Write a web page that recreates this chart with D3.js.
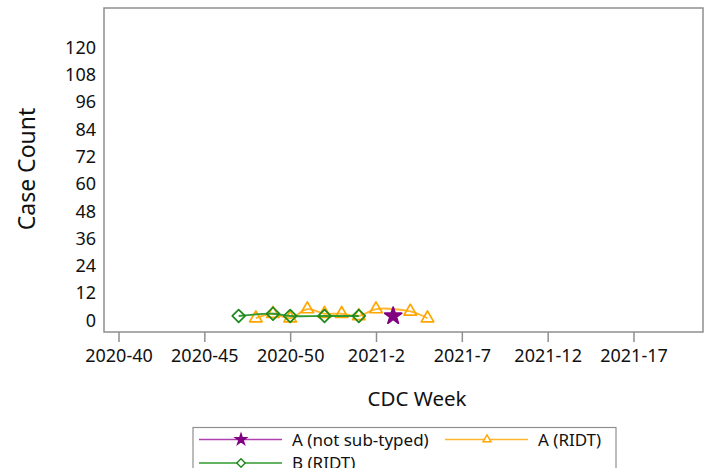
<!DOCTYPE html>
<html>
<head>
<meta charset="utf-8">
<script src="https://cdn.jsdelivr.net/npm/d3@7"></script>
<style>
  body { margin: 0; background: #fff; }
  svg { display: block; font-family: "Noto Sans", sans-serif; }
</style>
</head>
<body>
<svg id="chart" width="711" height="468"></svg>
<script>
// ticks
var xTickWeeks = ['2020-40','2020-45','2020-50','2021-2','2021-7','2021-12','2021-17'];
var yTicks = [0,12,24,36,48,60,72,84,96,108,120];

// series
var notSubWeeks = ['2021-3'];
var notSubCounts = [2];
var ridtAWeeks = ['2020-48','2020-49','2020-50','2020-51','2020-52','2020-53','2021-1','2021-2','2021-4','2021-5'];
var ridtACounts = [1,3,1,5,3,3,2,5,4,1];
var ridtBWeeks = ['2020-47','2020-49','2020-50','2020-52','2021-1'];
var ridtBCounts = [2,3,2,2,2];

// week label -> running index (2020 has 53 CDC weeks)
function weekIdx(w){
  var p = w.split('-');
  var yr = +p[0], wk = +p[1];
  return yr == 2020 ? wk - 40 : 13 + wk;
}

var svg = d3.select('#chart');
var plotL = 104, plotR = 703, plotT = 8, plotB = 332;

var x = d3.scaleLinear().domain([-0.845, 34.05]).range([plotL, plotR]);
var y = d3.scaleLinear().domain([-5.05, 137.4]).range([plotB, plotT]);

// frame
svg.append('rect')
  .attr('x', plotL).attr('y', plotT)
  .attr('width', plotR - plotL).attr('height', plotB - plotT)
  .style('fill', 'none')
  .style('stroke', '#8f8f8f')
  .style('stroke-width', 1.5);

// x axis
var xAxis = d3.axisBottom(x)
  .tickValues(xTickWeeks.map(weekIdx))
  .tickFormat(function(d, i){ return xTickWeeks[i]; })
  .tickSize(10)
  .tickSizeOuter(0);
var gx = svg.append('g').attr('transform', 'translate(0,' + plotB + ')').call(xAxis);
gx.select('.domain').remove();
gx.selectAll('line').style('stroke', '#8f8f8f').style('stroke-width', 1.5);
gx.selectAll('text')
  .attr('dy', null).attr('y', 30)
  .style('font-size', '18px').style('fill', '#111')
  .style('font-family', '"Noto Sans", sans-serif');

// y axis
var yAxis = d3.axisLeft(y).tickValues(yTicks).tickSize(0).tickPadding(8);
var gy = svg.append('g').attr('transform', 'translate(' + plotL + ',0)').call(yAxis);
gy.select('.domain').remove();
gy.selectAll('text')
  .style('font-size', '18px').style('fill', '#111')
  .style('font-family', '"Noto Sans", sans-serif');

// titles
svg.append('text')
  .attr('x', 417).attr('y', 406)
  .attr('text-anchor', 'middle')
  .style('font-size', '20.5px').style('fill', '#111')
  .text('CDC Week');
svg.append('text')
  .attr('transform', 'translate(35,169) rotate(-90)')
  .attr('text-anchor', 'middle')
  .style('font-size', '23px').style('fill', '#111')
  .text('Case Count');

var line = d3.line()
  .x(function(d){ return x(weekIdx(d.week)); })
  .y(function(d){ return y(d.count); })
  .curve(d3.curveCatmullRom);

function toPts(weeks, counts){
  return weeks.map(function(w, i){ return {week: w, count: counts[i]}; });
}

var series = [
  {name: 'A (RIDT)', pts: toPts(ridtAWeeks, ridtACounts), line: '#ffb52e', mark: '#ffa500', sym: d3.symbolTriangle, size: 68, lsize: 28, fill: 'none'},
  {name: 'B (RIDT)', pts: toPts(ridtBWeeks, ridtBCounts), line: '#2f9a2f', mark: '#1a8a1a', sym: d3.symbolDiamond2, size: 105, lsize: 45, fill: 'none'},
  {name: 'A (not sub-typed)', pts: toPts(notSubWeeks, notSubCounts), line: '#b040b0', mark: '#800080', sym: d3.symbolStar, size: 90, lsize: 38, fill: '#800080'}
];

series.forEach(function(s){
  svg.append('path')
    .datum(s.pts)
    .attr('d', line)
    .style('fill', 'none')
    .style('stroke', s.line)
    .style('stroke-width', 1.9);
  svg.selectAll(null)
    .data(s.pts)
    .enter()
    .append('path')
    .attr('transform', function(d){ return 'translate(' + x(weekIdx(d.week)) + ',' + y(d.count) + ')'; })
    .attr('d', d3.symbol().type(s.sym).size(s.size))
    .style('fill', s.fill)
    .style('stroke', s.mark)
    .style('stroke-width', 1.7)
    .style('stroke-linejoin', 'round');
});

// legend
var lg = svg.append('g');
lg.append('rect')
  .attr('x', 193).attr('y', 427.5)
  .attr('width', 423).attr('height', 60)
  .style('fill', 'white')
  .style('stroke', '#8f8f8f')
  .style('stroke-width', 1.2);

var legendItems = [
  {s: series[2], x: 199, y: 439.5},
  {s: series[0], x: 445, y: 439.5},
  {s: series[1], x: 199, y: 463}
];
legendItems.forEach(function(it){
  lg.append('line')
    .attr('x1', it.x).attr('x2', it.x + 83)
    .attr('y1', it.y).attr('y2', it.y)
    .style('stroke', it.s.line).style('stroke-width', 1.6);
  lg.append('path')
    .attr('transform', 'translate(' + (it.x + 42) + ',' + it.y + ')')
    .attr('d', d3.symbol().type(it.s.sym).size(it.s.lsize))
    .style('fill', it.s.fill === 'none' ? 'white' : it.s.fill)
    .style('stroke', it.s.mark)
    .style('stroke-width', 1.4);
  lg.append('text')
    .attr('x', it.x + 93).attr('y', it.y + 6)
    .style('font-size', '17px').style('fill', '#111')
    .text(it.s.name);
});
</script>
</body>
</html>
